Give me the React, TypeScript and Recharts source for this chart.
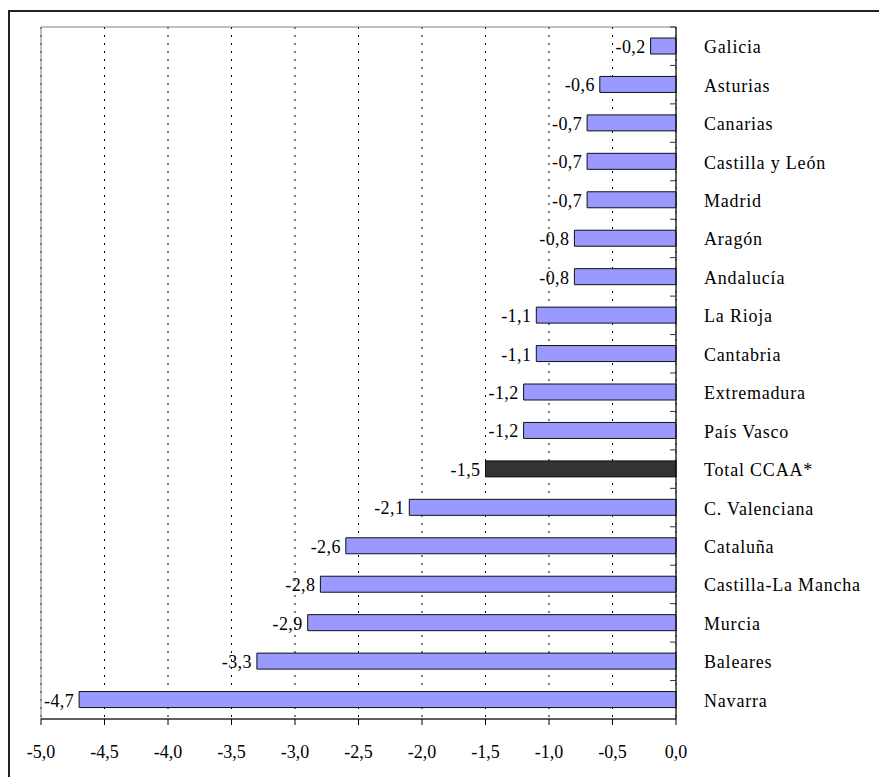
import { Bar, BarChart, CartesianGrid, Cell, LabelList, ReferenceArea, XAxis, YAxis } from "recharts";

// Variación por comunidad autónoma (%)
const regions = [
  "Galicia",
  "Asturias",
  "Canarias",
  "Castilla y León",
  "Madrid",
  "Aragón",
  "Andalucía",
  "La Rioja",
  "Cantabria",
  "Extremadura",
  "País Vasco",
  "Total CCAA*",
  "C. Valenciana",
  "Cataluña",
  "Castilla-La Mancha",
  "Murcia",
  "Baleares",
  "Navarra",
];
const changes = [-0.2, -0.6, -0.7, -0.7, -0.7, -0.8, -0.8, -1.1, -1.1, -1.2, -1.2, -1.5, -2.1, -2.6, -2.8, -2.9, -3.3, -4.7];
const xTicks = [-5, -4.5, -4, -3.5, -3, -2.5, -2, -1.5, -1, -0.5, 0];

const TOTAL_LABEL = "Total CCAA*";
const FONT = "'Liberation Serif', 'Times New Roman', serif";

const WIDTH = 879;
const HEIGHT = 777;
const MARGIN = { top: 27, right: 0, bottom: 0, left: 41 };
const X_AXIS_H = 58;
const Y_AXIS_W = 203;
const ROW_H = (HEIGHT - MARGIN.top - X_AXIS_H) / regions.length;
const LABEL_GAP = 28;

const data = regions.map((name, i) => ({ name, value: changes[i] }));

const fmt = (v: number) => v.toFixed(1).replace(".", ",");

// Category name on the right plus the small tick between rows (Excel style)
function RegionTick(props: any) {
  const { x, y, payload } = props;
  const axisX = x - LABEL_GAP;
  const top = y - ROW_H / 2;
  return (
    <g>
      <line x1={axisX - 6} y1={top} x2={axisX} y2={top} stroke="#333" strokeWidth={1} />
      <text
        x={x}
        y={y}
        dy={7}
        textAnchor="start"
        fill="#000"
        fontFamily={FONT}
        fontSize={18}
        letterSpacing={0.8}
      >
        {payload.value}
      </text>
    </g>
  );
}

function ValueLabel(props: any) {
  const { x, y, width, height, value } = props;
  const left = Math.min(x, x + width);
  return (
    <text
      x={left - 5}
      y={y + height / 2}
      dy={7}
      textAnchor="end"
      fill="#000"
      fontFamily={FONT}
      fontSize={18}
      letterSpacing={0.4}
    >
      {fmt(value)}
    </text>
  );
}

export default function App() {
  return (
    <div style={{ position: "absolute", left: 0, top: 0, width: WIDTH, height: HEIGHT, overflow: "hidden", background: "#fff" }}>
      <div
        style={{
          position: "absolute",
          left: 8,
          top: 10,
          width: WIDTH + 20,
          height: HEIGHT + 20,
          borderTop: "2px solid #222",
          borderLeft: "2px solid #222",
          boxSizing: "border-box",
        }}
      />
      <div style={{ position: "absolute", left: 0, top: 0 }}>
        <BarChart width={WIDTH} height={HEIGHT} data={data} layout="vertical" margin={MARGIN}>
          <CartesianGrid horizontal={false} stroke="#000" strokeDasharray="2 6" />
          <XAxis
            type="number"
            domain={[-5, 0]}
            ticks={xTicks}
            tickFormatter={fmt}
            height={X_AXIS_H}
            tickSize={6}
            tickMargin={20}
            axisLine={{ stroke: "#000" }}
            tickLine={{ stroke: "#000" }}
            tick={{ fill: "#000", fontFamily: FONT, fontSize: 18 }}
            interval={0}
          />
          <YAxis
            type="category"
            dataKey="name"
            orientation="right"
            width={Y_AXIS_W}
            tickSize={0}
            tickMargin={LABEL_GAP}
            tickLine={false}
            axisLine={{ stroke: "#000" }}
            tick={<RegionTick />}
            interval={0}
          />
          <ReferenceArea x1={-5} x2={0} fill="none" stroke="#808080" strokeWidth={1} />
          <Bar dataKey="value" barSize={16} stroke="#111" strokeWidth={1} isAnimationActive={false}>
            {data.map((d) => (
              <Cell key={d.name} fill={d.name === TOTAL_LABEL ? "#333333" : "#9999FF"} />
            ))}
            <LabelList dataKey="value" content={<ValueLabel />} />
          </Bar>
        </BarChart>
      </div>
    </div>
  );
}
